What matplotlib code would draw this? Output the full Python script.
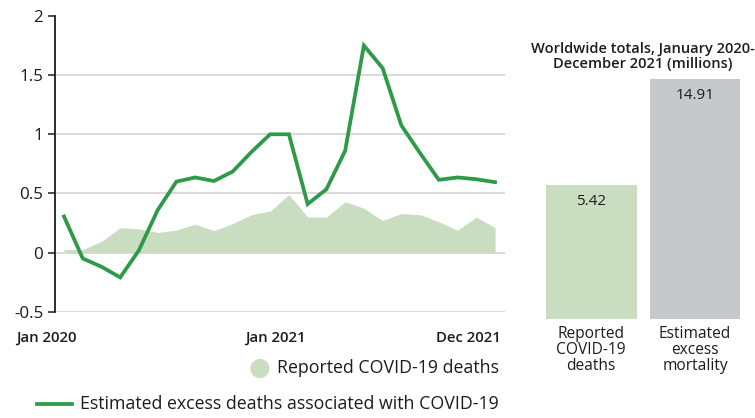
import matplotlib
matplotlib.use("Agg")
import matplotlib.pyplot as plt
import numpy as np

plt.rcParams['font.family'] = ['Open Sans', 'DejaVu Sans']

# monthly values, Jan 2020 - Dec 2021 (millions)
excess = [0.305, -0.05, -0.12, -0.21, 0.02, 0.36, 0.60, 0.635, 0.605, 0.685,
          0.85, 1.0, 1.0, 0.41, 0.535, 0.86, 1.75, 1.56, 1.075, 0.84,
          0.615, 0.635, 0.62, 0.595]
reported = [0.025, 0.025, 0.095, 0.21, 0.20, 0.17, 0.19, 0.24, 0.185, 0.245,
            0.32, 0.35, 0.49, 0.30, 0.30, 0.43, 0.375, 0.27, 0.33, 0.32,
            0.26, 0.19, 0.30, 0.21]
month_ticks = ['Jan 2020', 'Jan 2021', 'Dec 2021']

# totals panel
total_names = ['Reported\nCOVID-19\ndeaths', 'Estimated\nexcess\nmortality']
totals = [5.42, 14.91]

green = '#2e9a48'
light_green = '#c9ddc1'
grey_bar = '#c7c8ca'
ink = '#1c1c1c'

W, H = 755, 418
fig = plt.figure(figsize=(W / 100, H / 100), dpi=100)

def px_box(x0, x1, y_top, y_bot):
    return [x0 / W, 1 - y_bot / H, (x1 - x0) / W, (y_bot - y_top) / H]

# ---- monthly line / area chart ----
ax = fig.add_axes(px_box(55, 505, 16, 311.7))
x = np.arange(len(excess))
ax.fill_between(x, 0, reported, color=light_green, lw=0, zorder=2)
ax.plot(x, excess, color=green, lw=2.7, zorder=3, solid_joinstyle='miter')
ax.set_yticks([-0.5, 0, 0.5, 1, 1.5, 2])
ax.set_yticklabels(['-0.5', '0', '0.5', '1', '1.5', '2'])
for v in [-0.5, 0, 0.5, 1, 1.5]:
    ax.axhline(v, color='#cfcfcf', lw=1.1, zorder=1)
for s in ['top', 'right', 'bottom']:
    ax.spines[s].set_visible(False)
ax.spines['left'].set_color(ink)
ax.spines['left'].set_linewidth(1.3)
ax.tick_params(axis='y', length=5, width=1.1, color=ink, labelsize=12.2,
               labelcolor=ink, pad=3.5)
ax.set_xticks([0.7, 11.3, 21.6])
ax.set_xticklabels(month_ticks, fontweight='semibold', fontsize=10.7, color=ink)
ax.get_xticklabels()[0].set_ha('right')
ax.tick_params(axis='x', length=0, pad=14)
ax.set_xlim(-0.48, len(excess) - 1 + 0.53)
ax.set_ylim(-0.5, 2)

# legend
fig.text(260 / W, 1 - 368 / H, '\u25CF', color=light_green, fontsize=18,
         ha='center', va='center', family='DejaVu Sans')
fig.text(277 / W, 1 - 368 / H, 'Reported COVID-19 deaths', fontsize=12.8,
         color=ink, va='center', ha='left')
fig.add_artist(plt.Line2D([37 / W, 72 / W], [1 - 404 / H, 1 - 404 / H],
                          color=green, lw=2.7))
fig.text(80 / W, 1 - 404 / H, 'Estimated excess deaths associated with COVID-19',
         fontsize=12.8, color=ink, va='center', ha='left')

# ---- totals bar panel ----
base = -6.6
bx = fig.add_axes(px_box(530, 755, 79, 319.3))
pos = np.arange(len(totals))
vals = np.array(totals)
bx.bar(pos, vals - base, bottom=base, width=0.875,
       color=[light_green, grey_bar], lw=0)
bx.set_xlim(-0.587, 1.577)
bx.set_ylim(base, 14.91)
bx.axis('off')
for p, v in zip(pos, totals):
    bx.annotate(f'{v:.2f}', (p, v), xytext=(0, -12), textcoords='offset points',
                ha='center', va='center', fontsize=11, color=ink)
for p, name in zip(pos, total_names):
    bx.annotate(name, (p, base), xytext=(0, -5), textcoords='offset points',
                ha='center', va='top', fontsize=11.2, color=ink,
                linespacing=1.0)
fig.text(643 / W, 1 - 56 / H, 'Worldwide totals, January 2020-\nDecember 2021 (millions)',
         ha='center', va='center', fontsize=10.5, fontweight='semibold',
         color=ink, linespacing=1.1)

fig.savefig('out.png', dpi=100)
